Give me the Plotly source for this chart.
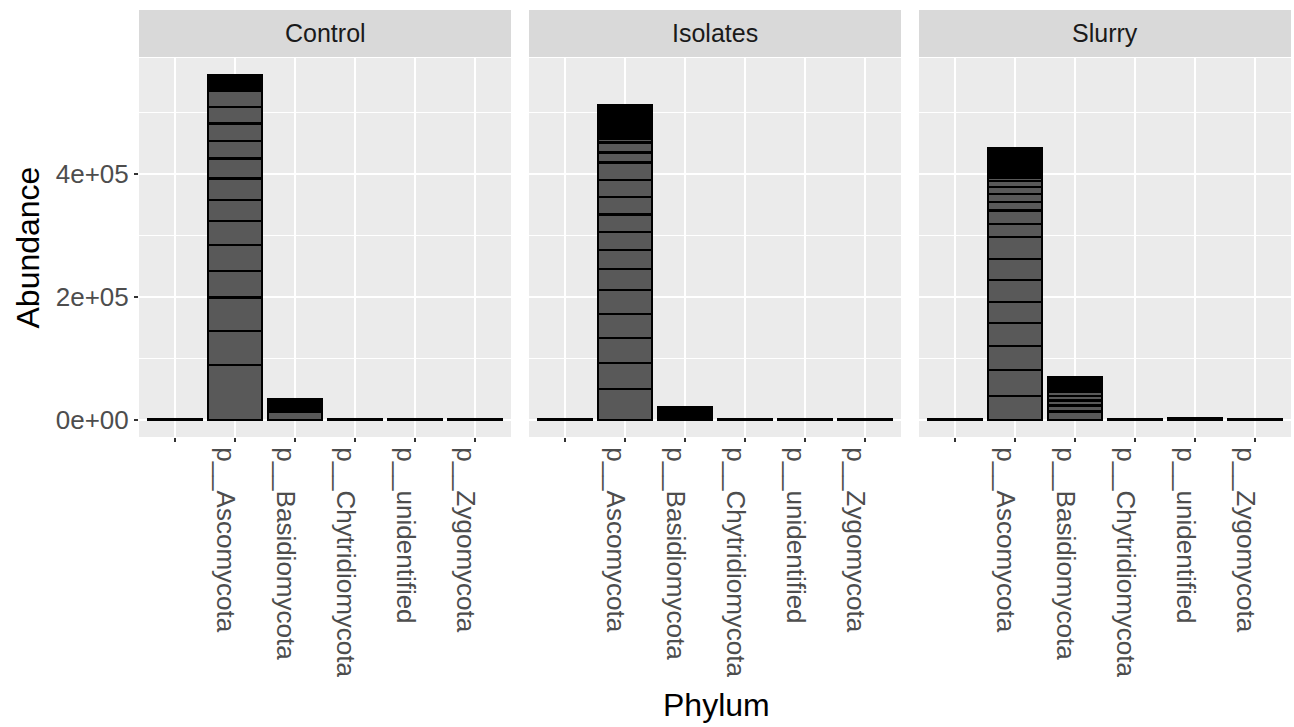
import plotly.graph_objects as go

# ---------------- data ----------------
panels = ["Control", "Isolates", "Slurry"]
phyla = [" ", "p__Ascomycota", "p__Basidiomycota", "p__Chytridiomycota", "p__unidentified", "p__Zygomycota"]
y_tickvals = [0, 200000, 400000]
y_ticktext = ["0e+00", "2e+05", "4e+05"]
y_minor = [100000, 300000, 500000]

# stacked segment abundances (bottom -> top) per facet and phylum
control_blank = [1500]
control_asco = [89100, 55500, 54100, 43100, 42400, 38500, 35100, 34500, 32400, 28700, 28000, 27500, 25400,
                2600, 2300, 2100, 1900, 1800, 1700, 1600, 1500, 1400, 1300, 1200, 1100, 1000, 900, 800,
                700, 600, 500, 400, 300]
control_basidio = [13400, 2500, 2400, 2300, 2100, 2000, 1900, 1800, 1700, 1500, 1200, 700, 600]
control_chytrid = [300]
control_unident = [400]
control_zygo = [300]

isolates_blank = [500]
isolates_asco = [49700, 42100, 40500, 39400, 38900, 35100, 29600, 29600, 28700, 28000, 28700, 28000, 16200,
                 16200, 5500, 2900, 2800, 2700, 2600, 2500, 2500, 2400, 2400, 2300, 2300, 2200, 2200, 2100,
                 2100, 2000, 2000, 1900, 1800, 1700, 1600, 1500, 1400, 1300, 1200, 1100, 1000, 900, 900, 800]
isolates_basidio = [2800, 2600, 2500, 2300, 2200, 2000, 1900, 1700, 1500, 1500]
isolates_chytrid = [300]
isolates_unident = [300]
isolates_zygo = [300]

slurry_blank = [500]
slurry_asco = [38900, 42100, 38900, 36800, 35000, 35100, 35100, 35000, 21700, 21500, 13400, 13600, 10700,
               9700, 5500, 2800, 2700, 2700, 2600, 2500, 2400, 2400, 2300, 2200, 2200, 2100, 2000, 2000,
               1900, 1800, 1700, 1600, 1500, 1400, 1300, 1200, 1100, 1000, 900, 800, 800, 700]
slurry_basidio = [13400, 9700, 8100, 7600, 7000, 2800, 2700, 2500, 2400, 2300, 2100, 2000, 1900, 1700,
                  1500, 1400]
slurry_chytrid = [300]
slurry_unident = [2500]
slurry_zygo = [300]

segments = {
    "Control": [control_blank, control_asco, control_basidio, control_chytrid, control_unident, control_zygo],
    "Isolates": [isolates_blank, isolates_asco, isolates_basidio, isolates_chytrid, isolates_unident, isolates_zygo],
    "Slurry": [slurry_blank, slurry_asco, slurry_basidio, slurry_chytrid, slurry_unident, slurry_zygo],
}

# ---------------- layout constants (pixels) ----------------
W, H = 1294, 727
ML, MR, MT, MB = 139, 3, 10, 290
PW = W - ML - MR          # 1152
PH = H - MT - MB          # 427
panel_w, gap = 372, 18
strip_bottom_px = 57      # absolute y pixel
panel_top_px = 58


def xp(px):
    return (px - ML) / PW


def yp(py):
    return (H - MB - py) / PH


ymax = max(sum(s) for p in panels for s in segments[p])
yrange = [-0.05 * ymax, 1.05 * ymax]

fig = go.Figure()
font_family = "Liberation Sans, Arial, sans-serif"
tick_size = 26

for i, p in enumerate(panels):
    xs, ys = [], []
    for ph, segs in zip(phyla, segments[p]):
        for v in segs:
            xs.append(ph)
            ys.append(v)
    suffix = "" if i == 0 else str(i + 1)
    fig.add_trace(go.Bar(
        x=xs, y=ys,
        xaxis="x" + suffix, yaxis="y" + suffix,
        marker=dict(color="#595959", line=dict(color="black", width=2.2)),
        showlegend=False, hoverinfo="x+y",
    ))
    left = i * (panel_w + gap)
    dom = [left / PW, (left + panel_w) / PW]
    xa = dict(
        domain=dom, type="category", categoryorder="array", categoryarray=phyla,
        range=[-0.6, len(phyla) - 0.4],
        showgrid=True, gridcolor="white", gridwidth=2,
        ticks="outside", ticklen=4, tickwidth=1.5, tickcolor="#333333",
        tickangle=90, ticklabelshift=-10,
        tickfont=dict(size=tick_size, color="#4D4D4D", family=font_family),
        zeroline=False, showline=False, anchor="y" + suffix, fixedrange=True,
    )
    ya = dict(
        domain=[0, yp(panel_top_px)], range=yrange,
        tickmode="array", tickvals=y_tickvals, ticktext=y_ticktext,
        showgrid=True, gridcolor="white", gridwidth=2,
        minor=dict(tickmode="array", tickvals=y_minor, showgrid=True, gridcolor="white", gridwidth=1, ticks=""),
        zeroline=False, showline=False, anchor="x" + suffix, fixedrange=True,
    )
    if i == 0:
        ya.update(ticks="outside", ticklen=4, tickwidth=1.5, tickcolor="#333333",
                  tickfont=dict(size=tick_size, color="#4D4D4D", family=font_family))
    else:
        ya.update(ticks="", showticklabels=False, matches="y")
    fig.layout["xaxis" + suffix] = xa
    fig.layout["yaxis" + suffix] = ya

    # facet strip
    fig.add_shape(type="rect", xref="paper", yref="paper",
                  x0=dom[0], x1=dom[1], y0=yp(strip_bottom_px), y1=yp(MT),
                  fillcolor="#D9D9D9", line=dict(width=0), layer="below")
    fig.add_annotation(text=p, xref="paper", yref="paper",
                       x=(dom[0] + dom[1]) / 2, y=yp((MT + strip_bottom_px) / 2),
                       showarrow=False, xanchor="center", yanchor="middle",
                       font=dict(size=25, color="#1A1A1A", family=font_family))

# axis titles
fig.add_annotation(text="Abundance", xref="paper", yref="paper", x=xp(27),
                   y=yp((panel_top_px + H - MB) / 2), textangle=-90, showarrow=False,
                   xanchor="center", yanchor="middle", font=dict(size=32, color="black", family=font_family))
fig.add_annotation(text="Phylum", xref="paper", yref="paper", x=xp(716), y=yp(705),
                   showarrow=False, xanchor="center", yanchor="middle",
                   font=dict(size=32, color="black", family=font_family))

fig.update_layout(
    width=W, height=H,
    margin=dict(l=ML, r=MR, t=MT, b=MB, pad=0),
    paper_bgcolor="white", plot_bgcolor="#EBEBEB",
    barmode="stack", bargap=0.1,
    font=dict(family=font_family),
)

fig.write_html("out.html")
